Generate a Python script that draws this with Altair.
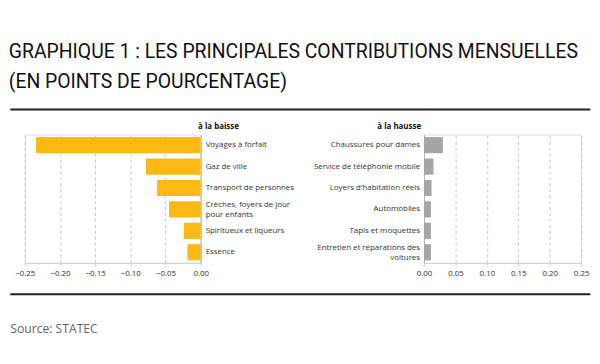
import altair as alt
import pandas as pd

# ---- data ----
down_labels = [
    "Voyages à forfait",
    "Gaz de ville",
    "Transport de personnes",
    "Crèches, foyers de jour|pour enfants",
    "Spiritueux et liqueurs",
    "Essence",
]
down_values = [-0.234, -0.078, -0.062, -0.045, -0.024, -0.019]

up_labels = [
    "Chaussures pour dames",
    "Service de téléphonie mobile",
    "Loyers d'habitation réels",
    "Automobiles",
    "Tapis et moquettes",
    "Entretien et réparations des|voitures",
]
up_values = [0.030, 0.015, 0.012, 0.011, 0.011, 0.011]

down_ticks = [-0.25, -0.20, -0.15, -0.10, -0.05, 0.00]
up_ticks = [0.00, 0.05, 0.10, 0.15, 0.20, 0.25]

title_lines = [
    "GRAPHIQUE 1 : LES PRINCIPALES CONTRIBUTIONS MENSUELLES",
    "(EN POINTS DE POURCENTAGE)",
]
down_header = "à la baisse"
up_header = "à la hausse"
source_text = "Source: STATEC"

FONT = "Open Sans"
TITLE_FONT = "Roboto"
H = 130
W_LEFT = 178
W_RIGHT = 159

y_scale = alt.Scale(paddingInner=0.245, paddingOuter=0.12)
multi_offset = {"condition": {"test": "indexof(datum.value, '|') >= 0", "value": -4.5}, "value": 0}


def x_axis(vals):
    return alt.Axis(
        values=vals, format=".2f", title=None, grid=True, gridDash=[3, 3],
        gridColor="#c4c4c4", domainColor="#d0d0d0", tickColor="#d0d0d0",
        tickSize=3, labelPadding=4, labelFont=FONT, labelFontSize=8,
        labelColor="#333333", labelFlush=False,
    )


def y_axis(orient, header, tx, align):
    return alt.Axis(
        orient=orient, title=header, titleAngle=0, titleX=tx, titleY=-6.5,
        titleAlign="center", titleBaseline="alphabetic", titleFont=FONT,
        titleFontSize=8, titleFontWeight="bold", titleColor="#111111",
        labelExpr="split(datum.value, '|')", labelAlign=align, labelPadding=4.5,
        labelOffset=multi_offset,
        ticks=False, domainColor="#b5b5b5", labelLineHeight=10.5, labelLimit=300,
        labelFont=FONT, labelFontSize=8, labelColor="#333333",
    )


left_df = pd.DataFrame({"cat": down_labels, "val": down_values})
right_df = pd.DataFrame({"cat": up_labels, "val": up_values})

left_bars = alt.Chart(left_df).mark_bar(color="#FDB913").encode(
    x=alt.X("val:Q", scale=alt.Scale(domain=[-0.25, 0], nice=False), axis=x_axis(down_ticks)),
    y=alt.Y("cat:N", sort=down_labels, scale=y_scale,
            axis=y_axis("right", down_header, 17.5, "left")),
)

rule_src = pd.DataFrame({"k": [0]})
top_rule = alt.Chart(rule_src).mark_rule(color="#222222", strokeWidth=2).encode(
    x=alt.value(-14.7), x2=alt.value(572.3), y=alt.value(-25.2)
)
bottom_rule = alt.Chart(rule_src).mark_rule(color="#222222", strokeWidth=2).encode(
    x=alt.value(-14.7), x2=alt.value(572.3), y=alt.value(161.6)
)
source = alt.Chart(pd.DataFrame({"t": [source_text]})).mark_text(
    align="left", baseline="alphabetic", font=FONT, fontSize=12.3, color="#666666"
).encode(text="t:N", x=alt.value(-14.7), y=alt.value(200.5))

left = alt.layer(left_bars, top_rule, bottom_rule, source).properties(width=W_LEFT, height=H)

right = alt.Chart(right_df).mark_bar(color="#A6A6A6").encode(
    x=alt.X("val:Q", scale=alt.Scale(domain=[0, 0.25], nice=False), axis=x_axis(up_ticks)),
    y=alt.Y("cat:N", sort=up_labels, scale=y_scale,
            axis=y_axis("left", up_header, -25.6, "right")),
).properties(width=W_RIGHT, height=H)

chart = alt.hconcat(left, right, spacing=226, bounds="flush").properties(
    title=alt.TitleParams(
        text=title_lines, anchor="start", font=TITLE_FONT, fontSize=19.6,
        fontWeight="normal", color="#111111", lineHeight=30, offset=16,
    ),
    padding={"left": 0, "top": 32, "right": 0, "bottom": 0},
).configure_view(stroke=None).configure(background="white")

chart.save("out.html", embed_options={"renderer": "svg", "actions": False})
